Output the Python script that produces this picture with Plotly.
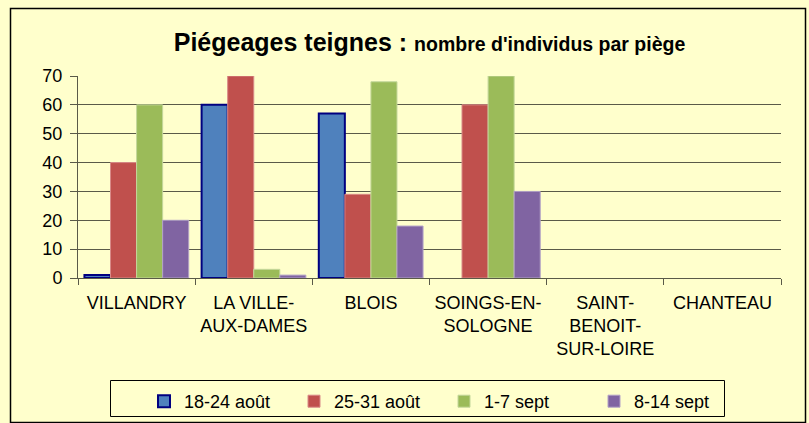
import plotly.graph_objects as go

categories = ["VILLANDRY", "LA VILLE-<br>AUX-DAMES", "BLOIS", "SOINGS-EN-<br>SOLOGNE",
              "SAINT-<br>BENOIT-<br>SUR-LOIRE", "CHANTEAU"]
series_names = ["18-24 août", "25-31 août", "1-7 sept", "8-14 sept"]
s1 = [1, 60, 57, 0, 0, 0]
s2 = [40, 70, 29, 60, 0, 0]
s3 = [60, 3, 68, 70, 0, 0]
s4 = [20, 1, 18, 30, 0, 0]
y_ticks = [0, 10, 20, 30, 40, 50, 60, 70]

colors = ["#4F81BD", "#C0504D", "#9BBB59", "#8064A2"]
borders = ["#000080", "#D98A88", "#C4D79B", "#B3A2C7"]
bw = [2, 1, 1, 1]

FONT = "Liberation Sans, Arial, sans-serif"
W, H = 809, 423
ml, mr, mt, mb = 78, 28, 76, 145
pw, ph = W - ml - mr, H - mt - mb

fig = go.Figure()
for name, vals, c, b, w in zip(series_names, [s1, s2, s3, s4], colors, borders, bw):
    widths = [w if v > 0 else 0 for v in vals]
    fig.add_trace(go.Bar(x=categories, y=vals, name=name,
                         marker=dict(color=c, line=dict(color=b, width=widths))))

def px2x(px):
    return (px - ml) / pw

def py2y(py):
    return (H - mb - py) / ph

fig.update_layout(
    width=W, height=H,
    margin=dict(l=ml, r=mr, t=mt, b=mb, autoexpand=False),
    paper_bgcolor="#FFFFCC", plot_bgcolor="#FFFFCC",
    barmode="group", bargap=0.11, bargroupgap=0,
    font=dict(family=FONT, color="black"),
    title=dict(
        text="<b><span style='font-size:25px'>Piégeages teignes : </span><span style='font-size:19.5px'>nombre d'individus par piège</span></b>",
        x=0.5, xref="paper", xanchor="center", y=1 - 45 / H, yanchor="middle",
        font=dict(family=FONT, color="black"),
    ),
    xaxis=dict(
        showgrid=False, showline=True, linecolor="#5a5a48", linewidth=1,
        ticks="outside", tickson="boundaries", ticklen=6, tickcolor="#5a5a48",
        tickfont=dict(size=18, family=FONT, color="black"), ticklabelstandoff=8,
    ),
    yaxis=dict(
        range=[0, 70], tickvals=y_ticks, showgrid=True, gridcolor="#5a5a48", gridwidth=1,
        showline=True, linecolor="#5a5a48", linewidth=1, zeroline=False,
        ticks="outside", ticklen=7, tickcolor="#5a5a48",
        tickfont=dict(size=18, family=FONT, color="black"), ticklabelstandoff=4,
    ),
    legend=dict(
        orientation="h", x=px2x(144), y=py2y(383), xanchor="left", yanchor="top",
        borderwidth=0, bgcolor="rgba(0,0,0,0)",
        font=dict(size=18, family=FONT, color="black"),
        entrywidth=105, entrywidthmode="pixels", traceorder="normal",
        itemwidth=30,
    ),
    shapes=[
        dict(type="rect", xref="paper", yref="paper",
             x0=px2x(10.5), x1=px2x(805.5), y0=py2y(422.5), y1=py2y(8.5),
             line=dict(color="black", width=1.5), fillcolor="rgba(0,0,0,0)", layer="below"),
        dict(type="rect", xref="paper", yref="paper",
             x0=px2x(110.5), x1=px2x(724.5), y0=py2y(416.5), y1=py2y(380.5),
             line=dict(color="black", width=1), fillcolor="rgba(0,0,0,0)", layer="below"),
    ],
)

fig.write_html("out.html")
